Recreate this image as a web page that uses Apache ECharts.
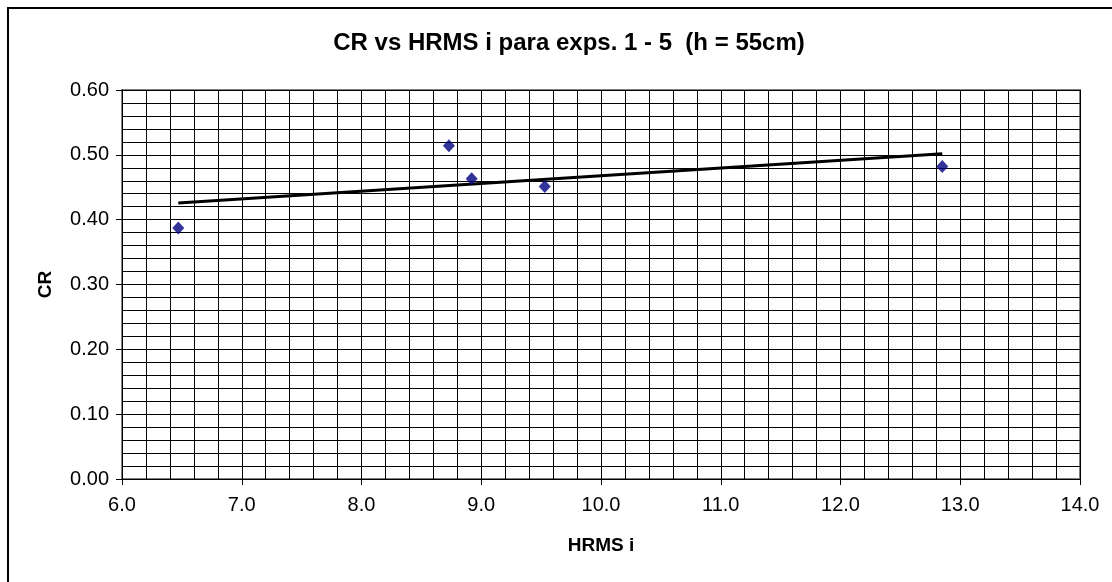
<!DOCTYPE html>
<html>
<head>
<meta charset="utf-8">
<script src="https://cdn.jsdelivr.net/npm/echarts@6/dist/echarts.min.js"></script>
<style>
html,body{margin:0;padding:0;background:#fff;}
#chart{width:1112px;height:582px;}
</style>
</head>
<body>
<div id="chart"></div>
<script>
// Data
const hrmsValues = [6.47, 8.73, 8.92, 9.53, 12.85];
const crValues = [0.387, 0.514, 0.463, 0.451, 0.482];
// Trend line end points (as drawn)
const trendX = [6.47, 12.85];
const trendY = [0.4258, 0.5018];

const xTicks = [6, 7, 8, 9, 10, 11, 12, 13, 14];
const yTicks = [0, 0.1, 0.2, 0.3, 0.4, 0.5, 0.6];

const points = hrmsValues.map((x, i) => [x, crValues[i]]);
const trend = trendX.map((x, i) => [x, trendY[i]]);

const font = '"Liberation Sans", Arial, sans-serif';
const chart = echarts.init(document.getElementById('chart'), null, {renderer: 'canvas'});
chart.setOption({
  animation: false,
  backgroundColor: '#ffffff',
  title: {
    text: 'CR vs HRMS i para exps. 1 - 5  (h = 55cm)',
    left: 564,
    textAlign: 'center',
    top: 26,
    textStyle: {fontFamily: font, fontSize: 24, fontWeight: 'bold', color: '#000'}
  },
  graphic: [{
    type: 'rect',
    shape: {x: 8, y: 8, width: 1130, height: 600},
    style: {fill: 'none', stroke: '#000', lineWidth: 2},
    z: 100
  }],
  grid: {left: 122, right: 32, top: 90, bottom: 103, show: true, borderColor: '#808080', borderWidth: 2, backgroundColor: '#fff'},
  xAxis: {
    type: 'value',
    min: xTicks[0], max: xTicks[xTicks.length - 1], interval: 1,
    name: 'HRMS i',
    nameLocation: 'middle',
    nameGap: 57,
    nameTextStyle: {fontFamily: font, fontSize: 19, fontWeight: 'bold', color: '#000'},
    axisLine: {show: true, onZero: false, lineStyle: {color: '#000', width: 1}},
    axisTick: {show: true, inside: false, length: 6, lineStyle: {color: '#000'}},
    minorTick: {show: false, splitNumber: 5},
    splitLine: {show: true, lineStyle: {color: '#000', width: 1}},
    minorSplitLine: {show: true, lineStyle: {color: '#000', width: 1}},
    axisLabel: {fontFamily: font, fontSize: 20, color: '#000', margin: 16, formatter: v => v.toFixed(1)}
  },
  yAxis: {
    type: 'value',
    min: yTicks[0], max: yTicks[yTicks.length - 1], interval: 0.1,
    name: 'CR',
    nameLocation: 'middle',
    nameGap: 67,
    nameRotate: 90,
    nameTextStyle: {fontFamily: font, fontSize: 19, fontWeight: 'bold', color: '#000'},
    axisLine: {show: true, lineStyle: {color: '#000', width: 1}},
    axisTick: {show: true, inside: false, length: 6, lineStyle: {color: '#000'}},
    minorTick: {show: false, splitNumber: 5},
    splitLine: {show: true, lineStyle: {color: '#000', width: 1}},
    minorSplitLine: {show: true, lineStyle: {color: '#000', width: 1}},
    axisLabel: {fontFamily: font, fontSize: 20, color: '#000', margin: 13, formatter: v => v.toFixed(2)}
  },
  series: [{
    type: 'line',
    data: trend,
    symbol: 'none',
    lineStyle: {color: '#000', width: 3},
    z: 3
  }, {
    type: 'scatter',
    data: points,
    symbol: 'diamond',
    symbolSize: [12, 13],
    itemStyle: {color: '#000080'},
    z: 4
  }]
});
</script>
</body>
</html>
